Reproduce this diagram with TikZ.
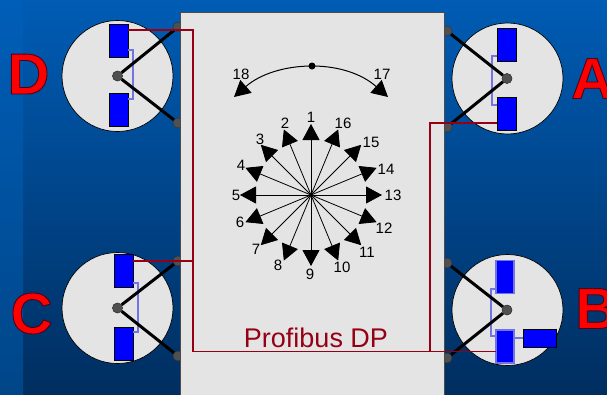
\documentclass[tikz,border=0pt]{standalone}
\usepackage{fontspec}
\setmainfont{Liberation Sans}
\usetikzlibrary{arrows.meta, calc}
\definecolor{panelgrey}{RGB}{228, 228, 228}
\definecolor{busred}{RGB}{150, 0, 20}
\definecolor{linkviolet}{RGB}{115, 115, 225}
\definecolor{hubgrey}{RGB}{80, 80, 80}
\definecolor{bgtop}{RGB}{0, 92, 180}
\definecolor{bgbottom}{RGB}{0, 46, 96}
\definecolor{striptop}{RGB}{0, 94, 184}
\definecolor{stripbottom}{RGB}{0, 70, 136}
\newcommand{\outlined}[1]{\special{pdf:code q 2 Tr 0.9 w 0.3 0 0.1 RG}#1\special{pdf:code Q}}
\tikzset{
  disc/.style={circle, draw=black, fill=panelgrey, line width=0.7pt, minimum size=111pt, inner sep=0pt},
  hub/.style={circle, draw=black!80, fill=hubgrey, line width=0.4pt, minimum size=10pt, inner sep=0pt},
  pin/.style={circle, draw=black!80, fill=hubgrey, line width=0.4pt, minimum size=10pt, inner sep=0pt},
  pad/.style={draw=black, fill=blue, line width=0.8pt, minimum width=19pt, minimum height=33pt, inner sep=0pt},
  padlit/.style={pad, draw=linkviolet, line width=1.6pt, minimum width=18pt},
  sidepad/.style={draw=black, fill=blue, line width=0.8pt, minimum width=33pt, minimum height=18pt, inner sep=0pt},
  arm/.style={draw=black, line width=3pt},
  bus/.style={draw=busred, line width=1.6pt},
  bracket/.style={draw=linkviolet, line width=1.2pt},
  ray/.style={draw=black, line width=0.8pt, -{Triangle[length=16pt,width=17pt]}},
  dial/.style={font=\fontsize{15}{15}\selectfont, inner sep=0pt},
  drive/.style={font=\fontsize{58}{58}\selectfont\bfseries, text=red, inner sep=0pt}
}
\begin{document}
\begin{tikzpicture}[x=1pt, y=-1pt]
  \clip (0,0) rectangle (607,394);
  \shade[top color=bgtop, bottom color=bgbottom] (0,0) rectangle (607,394);
  \shade[top color=striptop, bottom color=stripbottom] (0,0) rectangle (23,394);

  % pins sit behind the panel
  \node[pin] (pinDa) at (178,27) {};
  \node[pin] (pinDb) at (178,123) {};
  \node[pin] (pinCa) at (178,261) {};
  \node[pin] (pinCb) at (178,356) {};
  \node[pin] (pinAa) at (447,31) {};
  \node[pin] (pinAb) at (447,127) {};
  \node[pin] (pinBa) at (447,263) {};
  \node[pin] (pinBb) at (447,358) {};

  \draw[draw=black!70, fill=panelgrey, line width=1pt] (180,12) rectangle (444,400);

  % discs
  \node[disc] (discD) at (117.5,76) {};
  \node[disc] (discA) at (507.5,78.5) {};
  \node[disc] (discC) at (117.5,308) {};
  \node[disc] (discB) at (507.5,310) {};

  \node[pad] (padDa) at (118.5,40.5) {};
  \node[pad] (padDb) at (118.5,110) {};
  \node[pad] (padAa) at (506.5,44.5) {};
  \node[pad] (padAb) at (506.5,114) {};
  \node[pad] (padCa) at (123.5,271) {};
  \node[pad] (padCb) at (123.5,343.5) {};
  \node[padlit] (padBa) at (505,277) {};
  \node[padlit] (padBb) at (505,346.5) {};
  \node[sidepad] (padBc) at (539.5,338) {};

  % links between the pads
  \draw[bracket] (padDa.east |- 0,50) -- (133,50) -- (133,99) -- (padDb.east |- 0,99);
  \draw[bracket] (padAa.west |- 0,56) -- (492,56) -- (492,105) -- (padAb.west |- 0,105);
  \draw[bracket] (padCa.east |- 0,283) -- (138,283) -- (138,332) -- (padCb.east |- 0,332);
  \draw[bracket] (padBa.west |- 0,289) -- (491,289) -- (491,336) -- (padBb.west |- 0,336);
  \draw[bracket] (padBb.east |- padBc.west) -- (padBc.west);

  % arms
  \node[hub] (hubD) at (117.5,76) {};
  \node[hub] (hubA) at (507,78.5) {};
  \node[hub] (hubC) at (117.5,308) {};
  \node[hub] (hubB) at (507,310) {};
  \draw[arm] (hubD) -- (pinDa);
  \draw[arm] (hubD) -- (pinDb);
  \draw[arm] (hubA) -- (pinAa);
  \draw[arm] (hubA) -- (pinAb);
  \draw[arm] (hubC) -- (pinCa);
  \draw[arm] (hubC) -- (pinCb);
  \draw[arm] (hubB) -- (pinBa);
  \draw[arm] (hubB) -- (pinBb);
  \node[hub] at (hubD) {};
  \node[hub] at (hubA) {};
  \node[hub] at (hubC) {};
  \node[hub] at (hubB) {};

  % bus
  \coordinate (busD) at (128,30);
  \coordinate (trunkTop) at (193,30);
  \coordinate (trunkBot) at (193,351.5);
  \coordinate (busB) at (496,351.5);
  \coordinate (busC) at (133,261);
  \coordinate (tapC) at (193,261);
  \coordinate (busA) at (497,123);
  \coordinate (tapA) at (430,123);
  \coordinate (tapB) at (430,351.5);
  \draw[bus] (busD) -- (trunkTop) -- (trunkBot) -- (busB);
  \draw[bus] (busC) -- (tapC);
  \draw[bus] (busA) -- (tapA) -- (tapB);

  % dial
  \coordinate (dialc) at (311,195);
  \foreach \num in {1,...,16}{
    \pgfmathsetmacro{\ang}{-(90+(\num-1)*22.5)}
    \coordinate (tip\num) at ($(dialc)+(\ang:71)$);
    \draw[ray] (dialc) -- (tip\num);
  }
  \foreach \num/\lx/\ly in {1/311/117, 2/285/123, 3/260/139, 4/241/165, 5/236/195, 6/240/222, 7/256/249, 8/278/265,
    9/310/274, 10/342/267, 11/367/252, 12/384/228, 13/393/195, 14/386/169, 15/371/142, 16/343/123, 18/241/74, 17/382/74}{
    \node[dial] (lab\num) at (\lx,\ly) {\num};
  }
  \node[circle, fill=black, minimum size=7pt, inner sep=0pt] (topdot) at (312,66) {};
  \coordinate (tip18) at (234,97);
  \coordinate (tip17) at (388,97);
  \draw[ray, line width=1pt] (topdot.center) .. controls (285,66) and (260,74) .. (tip18);
  \draw[ray, line width=1pt] (topdot.center) .. controls (339,66) and (362,74) .. (tip17);

  \node[font=\fontsize{27}{27}\selectfont, text=busred, inner sep=0pt] (busname) at (316,338) {Profibus DP};

  \node[drive] (nameD) at (28.5,74) {\outlined{D}};
  \node[drive, anchor=west] (nameA) at (571,78.5) {\outlined{A}};
  \node[drive] (nameC) at (31.5,313.5) {\outlined{C}};
  \node[drive, anchor=west] (nameB) at (575,308.5) {\outlined{B}};
\end{tikzpicture}
\end{document}
